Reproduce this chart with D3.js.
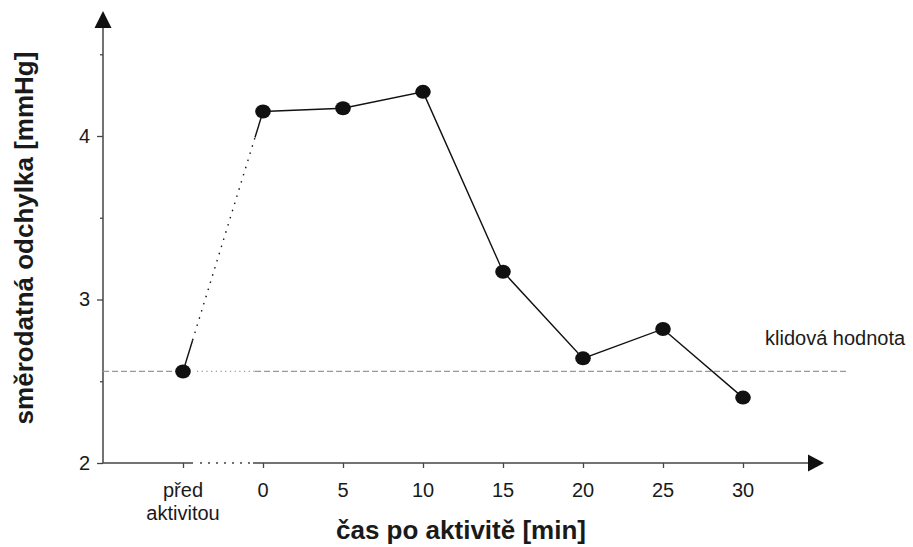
<!DOCTYPE html>
<html>
<head>
<meta charset="utf-8">
<script src="https://cdn.jsdelivr.net/npm/d3@7"></script>
<style>
  html, body { margin: 0; padding: 0; background: #fff; }
  svg { display: block; font-family: "Liberation Sans", Arial, sans-serif; }
</style>
</head>
<body>
<svg id="chart" width="913" height="547"></svg>
<script>
// Measurement time points (categories along x)
const categories = ["před aktivitou", "0", "5", "10", "15", "20", "25", "30"];
// Standard deviation of blood pressure [mmHg]
const values = [2.56, 4.15, 4.17, 4.27, 3.17, 2.64, 2.82, 2.40];
// Resting value (reference line)
const restingValue = 2.56;
const restingLabel = "klidová hodnota";
// Y-axis ticks
const yMajorTicks = [2, 3, 4];
const yMinorTicks = [2.5, 3.5, 4.5];

const svg = d3.select("#chart");

const x = d3.scalePoint().domain(categories).range([183, 743]);
const y = d3.scaleLinear().domain([2, 4]).range([463, 136]);

const axisColor = "#444";
const textColor = "#1a1a1a";
const x0 = 103, yBase = y(2);

// ---- Y axis (line, arrow, ticks) ----
svg.append("line")
  .attr("x1", x0).attr("x2", x0)
  .attr("y1", yBase).attr("y2", 26)
  .attr("stroke", axisColor).attr("stroke-width", 1.5);
svg.append("path")
  .attr("d", `M${x0},11 L${x0 - 8.5},28 L${x0 + 8.5},28 Z`)
  .attr("fill", "#111");

const yAxis = d3.axisLeft(y).tickValues(yMajorTicks).tickSize(6).tickPadding(7)
  .tickFormat(d3.format("d"));
const gy = svg.append("g").attr("transform", `translate(${x0},0)`).call(yAxis);
gy.select(".domain").remove();
gy.selectAll(".tick line").attr("stroke", axisColor).attr("stroke-width", 1.3);
gy.selectAll(".tick text").attr("font-size", 20).attr("fill", textColor)
  .attr("font-family", "Liberation Sans, Arial, sans-serif");

const yMinor = d3.axisLeft(y).tickValues(yMinorTicks).tickSize(3).tickFormat("");
const gym = svg.append("g").attr("transform", `translate(${x0},0)`).call(yMinor);
gym.select(".domain").remove();
gym.selectAll(".tick line").attr("stroke", axisColor).attr("stroke-width", 1.3);

// ---- X axis (solid / dotted break between "před" and "0") ----
const xPre = x(categories[0]), xZero = x(categories[1]);
svg.append("line")
  .attr("x1", x0).attr("x2", xPre + 10).attr("y1", yBase).attr("y2", yBase)
  .attr("stroke", axisColor).attr("stroke-width", 1.5);
svg.append("line")
  .attr("x1", xPre + 17).attr("x2", xZero - 10).attr("y1", yBase).attr("y2", yBase)
  .attr("stroke", axisColor).attr("stroke-width", 1.5).attr("stroke-dasharray", "2,6");
svg.append("line")
  .attr("x1", xZero - 10).attr("x2", 810).attr("y1", yBase).attr("y2", yBase)
  .attr("stroke", axisColor).attr("stroke-width", 1.5);
svg.append("path")
  .attr("d", `M824,${yBase} L808,${yBase - 8.5} L808,${yBase + 8.5} Z`)
  .attr("fill", "#111");

const xAxis = d3.axisBottom(x).tickSize(5).tickFormat("");
const gx = svg.append("g").attr("transform", `translate(0,${yBase})`).call(xAxis);
gx.select(".domain").remove();
gx.selectAll(".tick line").attr("stroke", axisColor).attr("stroke-width", 1.3);

// tick labels (first one wraps onto two lines)
const labels = svg.append("g").attr("font-size", 20).attr("fill", textColor).attr("text-anchor", "middle");
categories.forEach((c) => {
  const t = labels.append("text").attr("x", x(c)).attr("y", 497);
  c.split(" ").forEach((w, j) => {
    t.append("tspan").attr("x", x(c)).attr("dy", j === 0 ? 0 : 23).text(w);
  });
});

// ---- Resting-value reference line ----
const yRest = y(restingValue);
const refColor = "#999";
svg.append("line")
  .attr("x1", x0).attr("x2", xPre + 8).attr("y1", yRest).attr("y2", yRest)
  .attr("stroke", refColor).attr("stroke-width", 1.2).attr("stroke-dasharray", "6,3");
svg.append("line")
  .attr("x1", xPre + 14).attr("x2", xZero - 8).attr("y1", yRest).attr("y2", yRest)
  .attr("stroke", refColor).attr("stroke-width", 1.2).attr("stroke-dasharray", "1.2,3.5");
svg.append("line")
  .attr("x1", xZero - 8).attr("x2", 848).attr("y1", yRest).attr("y2", yRest)
  .attr("stroke", refColor).attr("stroke-width", 1.2).attr("stroke-dasharray", "6,3");
svg.append("text")
  .attr("x", 765).attr("y", 345)
  .attr("font-size", 20).attr("fill", textColor)
  .text(restingLabel);

// ---- Data line ----
const pts = categories.map((c, i) => [x(c), y(values[i])]);
const lineColor = "#111";

// connection "před" -> "0": solid stubs at both ends, dotted in between
const [p0, p1] = [pts[0], pts[1]];
const lerp = (t) => [p0[0] + (p1[0] - p0[0]) * t, p0[1] + (p1[1] - p0[1]) * t];
const line = d3.line();
const a = lerp(0.12), b = lerp(0.9);
svg.append("path").attr("d", line([p0, a])).attr("stroke", lineColor).attr("stroke-width", 1.4).attr("fill", "none");
svg.append("path").attr("d", line([a, b])).attr("stroke", lineColor).attr("stroke-width", 1.4)
  .attr("fill", "none").attr("stroke-dasharray", "1.5,6");
svg.append("path").attr("d", line([b, p1])).attr("stroke", lineColor).attr("stroke-width", 1.4).attr("fill", "none");

svg.append("path")
  .attr("d", line(pts.slice(1)))
  .attr("stroke", lineColor).attr("stroke-width", 1.4).attr("fill", "none");

svg.append("g").selectAll("ellipse").data(pts).join("ellipse")
  .attr("cx", d => d[0]).attr("cy", d => d[1])
  .attr("rx", 7.8).attr("ry", 7)
  .attr("fill", "#111");

// ---- Axis titles ----
svg.append("text")
  .attr("x", 461).attr("y", 539)
  .attr("text-anchor", "middle")
  .attr("font-size", 26).attr("font-weight", "bold").attr("fill", textColor)
  .text("čas po aktivitě [min]");
svg.append("text")
  .attr("transform", "translate(33,238) rotate(-90)")
  .attr("text-anchor", "middle")
  .attr("font-size", 26).attr("font-weight", "bold").attr("fill", textColor)
  .text("směrodatná odchylka [mmHg]");
</script>
</body>
</html>
